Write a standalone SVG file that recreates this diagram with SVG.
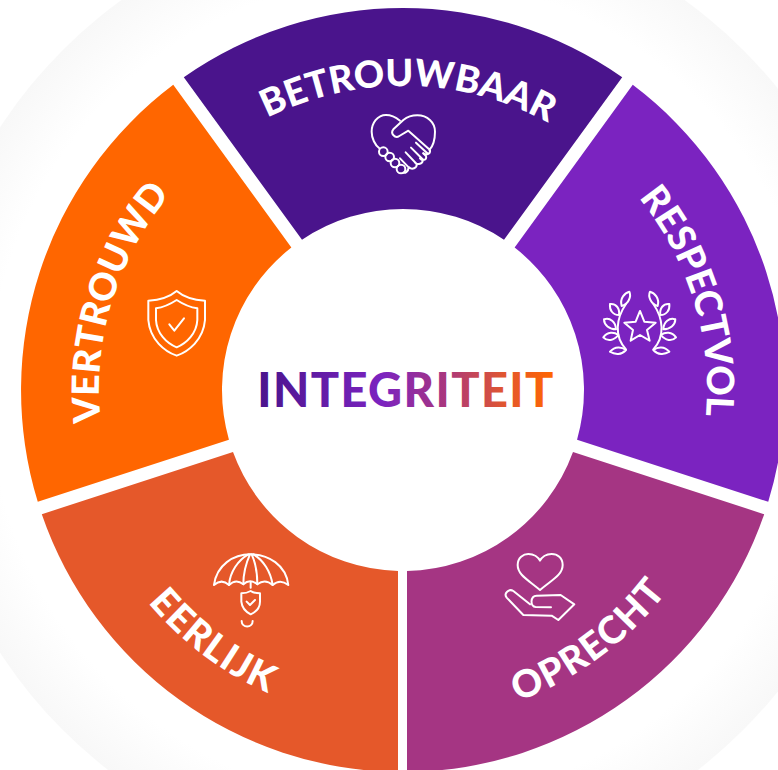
<svg xmlns="http://www.w3.org/2000/svg" width="778" height="770" viewBox="0 0 778 770">
<style>
.lbl{font-family:"Lato","Liberation Sans",sans-serif;font-weight:900;font-size:37.5px;fill:#fff;text-anchor:middle}
.low{font-size:38px;letter-spacing:1.5px}
.ic{fill:none;stroke:#fff;stroke-width:6;stroke-linecap:round;stroke-linejoin:round}
</style>
<defs>
<linearGradient id="g" gradientUnits="userSpaceOnUse" x1="258" y1="0" x2="553" y2="0">
<stop offset="0" stop-color="#4a148c"/><stop offset="0.42" stop-color="#7b23c0"/><stop offset="0.62" stop-color="#a53583"/><stop offset="0.85" stop-color="#e5582a"/><stop offset="1" stop-color="#ff6600"/>
</linearGradient>
<radialGradient id="halo" gradientUnits="userSpaceOnUse" cx="403" cy="390" r="481">
<stop offset="0.86" stop-color="#fff"/><stop offset="1" stop-color="#f8f8f8"/>
</radialGradient>
<path id="cw" d="M99 390A304 304 0 0 1 707 390"/>
<path id="ccw" d="M71 390A332 332 0 0 0 735 390"/>
<path id="sec" d="M183.800 77.200A382 382 0 0 1 622.200 77.200L504 239.800A181 181 0 0 0 302 239.800Z"/>
</defs>
<rect width="778" height="770" fill="#fff"/>
<circle id="halo-ring" cx="403" cy="390" r="481" fill="url(#halo)"/>
<g id="betrouwbaar">
<use href="#sec" fill="#4a148c"/>
<text class="lbl" transform="rotate(1 403 390)"><textPath href="#cw" startOffset="50%">BETROUWBAAR</textPath></text>
<g class="ic" transform="translate(340 90) scale(.3333)">
<path d="M180 92C165 80 150 75 138 75C112 75 95 100 95 125C95 145 105 165 118 175"/>
<path d="M268 180C282 165 285 145 285 125C285 97 262 76 232 76C215 76 200 82 190 90L160 118C150 130 165 147 178 138L205 122L270 180C272 195 258 195 250 190"/>
<path d="M228 158L262 190M250 190L258 198C262 212 245 212 240 205M213 173L248 208C250 222 232 226 225 218M197 187L230 222C232 235 215 240 208 232M180 205L206 232C205 245 195 250 190 248"/>
<circle cx="130" cy="185" r="13"/><circle cx="149" cy="201" r="13"/><circle cx="165" cy="219" r="13"/><circle cx="183" cy="237" r="13"/>
</g>
</g>
<g id="respectvol">
<use href="#sec" transform="rotate(72 403 390)" fill="#7b23c0"/>
<text class="lbl" transform="rotate(72.8 403 390)"><textPath href="#cw" startOffset="50%">RESPECTVOL</textPath></text>
<g class="ic" transform="translate(590 280) scale(.3333)">
<path d="M150 93L163 125L197 128L171 150L179 182L150 165L122 182L129 150L103 128L137 125Z"/>
<g id="laurel">
<path d="M108 72C78 115 72 170 108 208"/>
<path d="M95 78C88 55 105 38 118 35C125 50 115 72 95 78M60 72C78 70 90 85 87 105C68 105 58 90 60 72M42 118C60 112 77 125 78 148C58 148 42 135 42 118M40 172C52 155 72 155 85 165C72 182 52 185 40 172M60 215C75 198 95 200 108 210C95 225 75 225 60 215"/>
</g>
<use href="#laurel" transform="matrix(-1 0 0 1 298 0)"/>
</g>
</g>
<g id="oprecht">
<path d="M764.200 514.200A382 382 0 0 1 407 772L407 571A181 181 0 0 0 573 452.100Z" fill="#a53583"/>
<text class="lbl low" transform="rotate(-36.500 403 390)"><textPath href="#ccw" startOffset="50%">OPRECHT</textPath></text>
<g class="ic" transform="translate(495 545) scale(.3333)">
<path d="M135 135C100 105 68 90 68 60C68 38 85 27 100 27C117 27 130 37 135 47C140 37 153 27 170 27C187 27 203 38 203 60C203 90 170 105 135 135Z"/>
<path d="M190 225L238 178L197 150L125 152C105 153 105 185 122 186L168 187M105 178L55 138C42 130 25 145 35 158L85 210L170 212L190 225"/>
</g>
</g>
<g id="eerlijk">
<path d="M398 772A382 382 0 0 1 41.800 514.200L233 452.100A181 181 0 0 0 398 571Z" fill="#e5582a"/>
<text class="lbl low" transform="rotate(37 403 390)"><textPath href="#ccw" startOffset="50%">EERLIJK</textPath></text>
<g class="ic" transform="translate(200 545) scale(.3333)">
<path d="M42 120C50 60 100 28 152 28C205 28 258 60 265 120Q240 100 218 120Q195 100 172 118Q150 100 130 118Q108 100 87 120Q65 100 42 120Z"/>
<path d="M87 120C90 80 115 45 145 28M130 118C130 80 140 50 150 28M172 118C172 80 165 50 155 28M218 120C212 80 190 45 160 28M152 112L152 128"/>
<path d="M152 138C140 145 132 145 124 145L124 170C126 190 140 202 152 208C165 202 180 190 180 170L180 145C172 145 162 145 152 138Z"/>
<path d="M140 170L150 180L165 165M125 228C125 250 158 250 158 228"/>
</g>
</g>
<g id="vertrouwd">
<use href="#sec" transform="rotate(288 403 390)" fill="#ff6600"/>
<text class="lbl" transform="rotate(287 403 390)"><textPath href="#cw" startOffset="50%">VERTROUWD</textPath></text>
<g class="ic" transform="translate(130 270) scale(.3333)">
<path d="M140 63C120 80 90 90 55 92L55 150C60 210 105 245 140 257C175 245 220 210 225 150L225 92C190 90 160 80 140 63Z"/>
<path d="M140 90C120 103 100 112 78 115L78 150C80 190 110 220 140 232C170 220 200 190 202 150L202 115C180 112 160 103 140 90Z"/>
<path d="M118 163L133 182L162 145"/>
</g>
</g>
<g id="integriteit">
<text x="406" y="407" text-anchor="middle" font-family="Lato,'Liberation Sans',sans-serif" font-weight="900" font-size="47" letter-spacing="1.4" fill="url(#g)">INTEGRITEIT</text>
</g>
</svg>
